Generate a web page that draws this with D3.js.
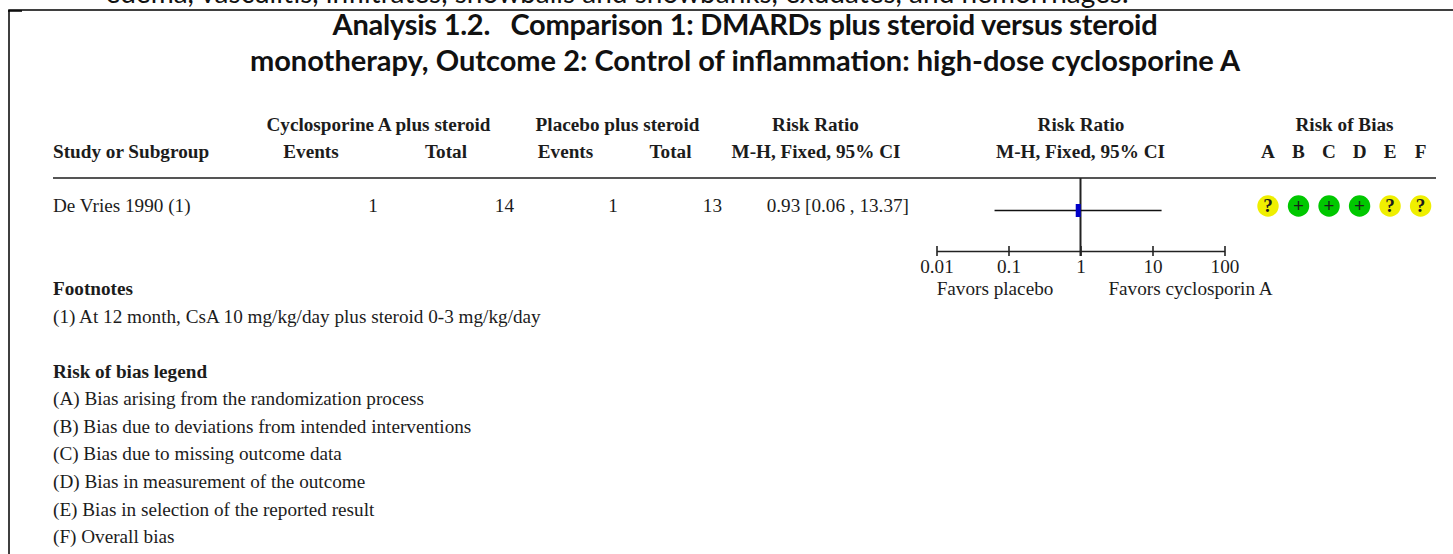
<!DOCTYPE html>
<html lang="en">
<head>
<meta charset="utf-8">
<title>Analysis 1.2</title>
<script src="https://cdn.jsdelivr.net/npm/d3@7"></script>
<style>
body { margin: 0; background: #fff; overflow: hidden; }
.serif { font-family: "Liberation Serif", serif; fill: #1c1c1c; }
.head { font-family: Lato, sans-serif; font-weight: 700; fill: #111; white-space: pre; }
.axis path, .axis line { stroke: #222; }
</style>
</head>
<body>
<script>
var w = 1453, h = 554;

var titleLines = ["Analysis 1.2.   Comparison 1: DMARDs plus steroid versus steroid",
                  "monotherapy, Outcome 2: Control of inflammation: high-dose cyclosporine A"];
var clippedLine = "edema, vasculitis, infiltrates, snowballs and snowbanks, exudates, and hemorrhages.";

var study = "De Vries 1990 (1)";
var expEvents = [1], expTotal = [14], ctlEvents = [1], ctlTotal = [13];
var ratio = [0.93], ciLow = [0.064], ciHigh = [13.37];
var ciLabel = ["0.93 [0.06 , 13.37]"];

var axisTicks = [0.01, 0.1, 1, 10, 100];
var axisLabels = ["0.01", "0.1", "1", "10", "100"];

var biasKeys = ["A", "B", "C", "D", "E", "F"];
var biasValues = ["?", "+", "+", "+", "?", "?"];
var biasColors = {"?": "#efef00", "+": "#00c800"};

var legendLines = ["(A) Bias arising from the randomization process",
                   "(B) Bias due to deviations from intended interventions",
                   "(C) Bias due to missing outcome data",
                   "(D) Bias in measurement of the outcome",
                   "(E) Bias in selection of the reported result",
                   "(F) Overall bias"];

var svg = d3.select("body").append("svg").attr("width", w).attr("height", h);

function label(x, y, txt, anchor, bold, size) {
	return svg.append("text").attr("class", "serif")
		.attr("x", x).attr("y", y + 0.8)
		.attr("text-anchor", anchor || "start")
		.attr("font-weight", bold ? 700 : 400)
		.attr("font-size", (size || 19.2) + "px")
		.text(txt);
}

// page text cut off above the frame, as in the reference
svg.append("text").attr("class", "head").attr("x", 617).attr("y", 3)
	.attr("text-anchor", "middle").attr("font-size", "28px").style("font-weight", 400)
	.text(clippedLine);

// frame
svg.append("path").attr("d", "M9 554V10H1453").attr("fill", "none").attr("stroke", "#000").attr("stroke-width", 1.5);
svg.append("line").attr("x1", 8).attr("x2", 22).attr("y1", 11).attr("y2", 11).attr("stroke", "#000").attr("stroke-width", 1.5);

svg.selectAll("text.title").data(titleLines).enter().append("text")
	.attr("class", "head title")
	.attr("x", 745)
	.attr("y", function(d, i) { return 35 + i * 36; })
	.attr("text-anchor", "middle")
	.attr("font-size", "29px")
	.attr("letter-spacing", function(d, i) { return i ? 0 : -0.25; })
	.text(function(d) { return d; });

// column headers
label(378.5, 130, "Cyclosporine A plus steroid", "middle", true);
label(617.5, 130, "Placebo plus steroid", "middle", true);
label(815.5, 130, "Risk Ratio", "middle", true);
label(1081, 130, "Risk Ratio", "middle", true);
label(1344.5, 130, "Risk of Bias", "middle", true);
label(53, 157, "Study or Subgroup", "start", true);
label(311, 157, "Events", "middle", true);
label(446, 157, "Total", "middle", true);
label(565.5, 157, "Events", "middle", true);
label(670.5, 157, "Total", "middle", true);
label(816, 157, "M-H, Fixed, 95% CI", "middle", true);
label(1080.5, 157, "M-H, Fixed, 95% CI", "middle", true);

svg.append("line").attr("x1", 53).attr("x2", 1436).attr("y1", 178).attr("y2", 178)
	.attr("stroke", "#555").attr("stroke-width", 2);

// study row
label(53, 211, study);
label(373, 211, expEvents[0], "middle");
label(514, 211, expTotal[0], "end");
label(613, 211, ctlEvents[0], "middle");
label(722, 211, ctlTotal[0], "end");
label(909, 211, ciLabel[0], "end");

// forest plot
var x = d3.scaleLog().domain([0.01, 100]).range([936.5, 1224.5]);
var axisY = 251;

var xAxis = d3.axisBottom(x).tickValues(axisTicks)
	.tickFormat(function(d, i) { return axisLabels[i]; })
	.tickSize(0);
var gAxis = svg.append("g").attr("class", "axis").attr("transform", "translate(0," + axisY + ")").call(xAxis);
gAxis.select(".domain").attr("stroke-width", 1.6);
gAxis.selectAll("line").attr("y1", -5).attr("y2", 5).attr("stroke-width", 1.6);
gAxis.selectAll("text").attr("class", "serif").attr("y", 8).attr("dy", "0.71em").attr("font-size", "19.2px");

svg.append("line").attr("x1", x(1)).attr("x2", x(1)).attr("y1", 178).attr("y2", axisY + 5)
	.attr("stroke", "#222").attr("stroke-width", 2);
svg.append("line").attr("x1", x(ciLow[0])).attr("x2", x(ciHigh[0])).attr("y1", 210.5).attr("y2", 210.5)
	.attr("stroke", "#111").attr("stroke-width", 1.5);
svg.append("rect").attr("x", x(ratio[0]) - 2.5).attr("y", 204).attr("width", 5).attr("height", 13).attr("fill", "#0000c8");

label(995, 294, "Favors placebo", "middle");
label(1190.5, 294, "Favors cyclosporin A", "middle");

// risk of bias
var xBias = d3.scalePoint().domain(biasKeys).range([1268, 1420.6]);
svg.selectAll("text.key").data(biasKeys).enter().append("text")
	.attr("class", "serif key")
	.attr("x", function(d) { return xBias(d); }).attr("y", 157.8)
	.attr("text-anchor", "middle").attr("font-weight", 700).attr("font-size", "19.2px")
	.text(function(d) { return d; });
svg.selectAll("circle.bias").data(biasValues).enter().append("circle")
	.attr("class", "bias")
	.attr("cx", function(d, i) { return xBias(biasKeys[i]); })
	.attr("cy", 206).attr("r", 10.7)
	.attr("fill", function(d) { return biasColors[d]; });
svg.selectAll("text.mark").data(biasValues).enter().append("text")
	.attr("class", "serif mark")
	.attr("x", function(d, i) { return xBias(biasKeys[i]); })
	.attr("y", 212)
	.attr("text-anchor", "middle").attr("font-weight", 700).attr("font-size", "19.2px")
	.text(function(d) { return d; });

// footnotes and legend
label(53, 294, "Footnotes", "start", true);
label(53, 322, "(1) At 12 month, CsA 10 mg/kg/day plus steroid 0-3 mg/kg/day");
label(53, 377, "Risk of bias legend", "start", true);
legendLines.forEach(function(d, i) {
	label(53, 404 + i * 27.7, d);
});
</script>
</body>
</html>
